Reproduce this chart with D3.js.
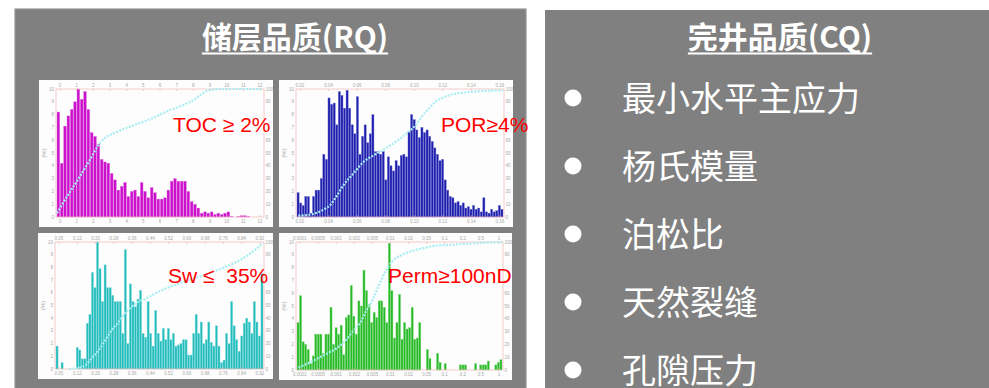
<!DOCTYPE html>
<html><head><meta charset="utf-8">
<script src="https://cdnjs.cloudflare.com/ajax/libs/d3/7.8.5/d3.min.js"></script>
<style>html,body{margin:0;padding:0;background:#fff;overflow:hidden}</style>
</head><body>
<script>
// ---------------- DATA ----------------
const leftTitle = "储层品质(RQ)";
const rightTitle = "完井品质(CQ)";
const cqItems = ["最小水平主应力", "杨氏模量", "泊松比", "天然裂缝", "孔隙压力"];
const chartLabels = ["TOC ≥ 2%", "POR≥4%", "Sw ≤  35%", "Perm≥100nD"];

// histogram bar heights (relative frequency, 10 = full plot height)
const tocBars = [8.2,4.2,7.1,7.9,8.4,9.0,10.0,9.2,9.8,8.4,
  6.6,6.3,5.7,4.5,4.3,4.2,3.4,2.9,2.1,2.4,
  2.7,1.6,2.0,2.1,1.6,2.7,2.0,1.5,2.3,1.9,
  1.4,1.4,1.5,2.1,2.8,3.0,2.8,2.8,2.8,2.0,
  1.2,1.0,0.7,0.3,0.4,0.3,0.4,0.2,0.3,0.2,
  0.3,0.4,0.05,0,0.05,0.1,0.1,0.05,0,0,0,0];
const porBars = [1.9,1.1,0.9,1.6,1.6,0.3,1.6,2.1,2.1,3.0,
  4.9,4.5,9.3,8.8,8.9,7.2,9.8,9.5,8.5,9.9,
  8.5,7.2,6.5,9.4,4.9,6.3,7.2,5.8,6.5,8.0,
  5.1,5.1,4.9,5.1,2.9,4.7,4.0,3.6,4.4,4.0,
  4.8,4.9,4.7,6.7,8.0,7.6,6.8,6.2,7.0,6.6,
  6.8,6.3,5.9,5.4,4.9,4.4,4.5,2.9,2.1,1.6,
  1.5,1.1,1.2,0.9,1.1,0.7,0.8,0.6,0.9,0.6,
  0.7,0.4,1.5,0.4,0.3,0.6,0.4,0.5,0.9,0.6];
const swBars = [1.8,0,0.5,0,0,0,0,0,1.7,1.5,
  0.8,0.8,3.6,4.3,7.6,6.4,10.0,7.9,5.3,8.2,
  6.4,6.4,5.8,5.3,5.3,5.3,2.8,9.4,2.0,6.7,
  5.3,4.9,5.5,6.2,2.8,2.5,5.3,2.8,1.8,4.6,
  2.8,2.2,3.2,2.3,3.2,2.3,2.8,1.8,1.9,2.0,
  2.3,2.3,1.1,1.1,2.8,4.3,2.8,3.7,2.0,2.3,
  3.7,2.1,1.8,3.4,1.8,0.5,0.7,2.8,2.0,5.3,
  3.4,2.3,1.4,2.6,3.6,4.0,3.7,2.8,5.3,3.7,
  2.6,7.5];
const permBars = [3.7,5.8,2.2,2.0,1.6,0.5,1.1,2.8,2.8,2.8,
  1.3,2.8,2.8,4.9,2.0,3.3,2.8,3.5,1.2,4.1,
  4.3,6.6,4.2,2.8,5.4,5.0,7.8,6.2,5.1,3.7,
  4.5,4.1,5.4,5.4,4.9,3.7,9.9,6.2,2.5,3.7,
  5.9,2.4,3.7,3.2,3.3,4.9,2.4,2.5,3.7,0,
  0,1.6,0.9,0,0,1.3,0.6,0,0.5,0,
  0,0,0,0,0.4,0.4,0.4,0,0,0,
  0.5,0,0.4,0.4,0.4,0.7,0,0,0.4,0.6,
  0.8];

// cumulative curves (x in bin units, y in %)
const tocCumX = [0,3.5,6.5,10,13,18.5,23.5,28.5,33.5,38.5,41.5,43.5,45.5,49.5,62];
const tocCumY = [3,18,30,45,58,67,72,77,83,88,92,96,99,100,100];
const porCumX = [0.5,5.4,10.5,13,15.6,18.1,21.9,25.8,29.6,32.1,34.7,38.5,43.6,46.2,48.7,51.3,53.8,56.4,58.9,64,69,80];
const porCumY = [1,2,6,9.5,17,25,34,43,48,51,54,59,67,72,79,85,90,93,95,97,98,99];
const swCumX = [5.2,9.1,11.7,14.4,17,19.6,22.2,24.8,27.4,30,32.6,35.2,37.9,41.8,47,52.2,57.4,62.7,67.9,73.1,77,79.6,82];
const swCumY = [0,1,3,9,15,23,31,37,44,49,53,55,58,62,66,70,73,77,81,86,91,95,99];
const permCumX = [0.6,5.2,9.1,13,15.6,18.2,22,24.7,27.3,29.9,32.5,35,37.7,41.6,45.5,49.4,54.5,62.3,70.1,81];
const permCumY = [2,6,10,14,17,21,30,36,46,55,67,77,85,90,93,95,97,98,99,100];

// tiny axis tick labels (illegible in source, approximated)
const tocTicks = ["0","1","2","3","4","5","6","7","8","9","10","11","12"];
const porTicks = ["0.02","0.04","0.06","0.08","0.10","0.12","0.14","0.16"];
const swTicks = ["0.05","0.12","0.20","0.28","0.36","0.44","0.52","0.60","0.68","0.76","0.84","0.92"];
const permTicks = ["0.0001","0.0005","0.001","0.002","0.005","0.01","0.02","0.05","0.1","0.2","0.5","1"];
const freqTicks = ["0","1","2","3","4","5","6","7","8","9","10"];
const cumTicks = ["0","10","20","30","40","50","60","70","80","90","100"];

// ---------------- DRAW ----------------
const svg = d3.select("body").append("svg").attr("width", 989).attr("height", 388);

svg.append("rect").attr("x", 15).attr("y", 9).attr("width", 511).attr("height", 400)
  .attr("fill", "#808080").attr("stroke", "#959595").attr("stroke-width", 1.2);
svg.append("rect").attr("x", 545).attr("y", 10).attr("width", 460).attr("height", 400)
  .attr("fill", "#808080");

function title(text, cx) {
  const t = svg.append("text").attr("x", cx).attr("y", 48).attr("text-anchor", "middle")
    .attr("font-family", "'Noto Sans CJK SC', sans-serif").attr("font-weight", 700)
    .attr("font-size", 30).attr("fill", "#fff").text(text);
  const w = t.node().getComputedTextLength();
  svg.append("line").attr("x1", cx - w / 2).attr("x2", cx + w / 2)
    .attr("y1", 53.5).attr("y2", 53.5).attr("stroke", "#fff").attr("stroke-width", 1.8);
}
title(leftTitle, 295);
title(rightTitle, 780);

// right panel bullets
const rowY = d3.scaleLinear().domain([0, cqItems.length - 1]).range([98, 370]);
cqItems.forEach((s, i) => {
  svg.append("circle").attr("cx", 573).attr("cy", rowY(i)).attr("r", 8.5).attr("fill", "#fff");
  svg.append("text").attr("x", 622).attr("y", rowY(i) + 13)
    .attr("font-family", "'Noto Sans CJK SC', sans-serif").attr("font-size", 34)
    .attr("fill", "#fff").text(s);
});

const charts = [
  {box: [39, 80, 234, 147], bars: tocBars, cx: tocCumX, cy: tocCumY, color: "#cc11cc", edge: "#e27ee2", ticks: tocTicks, label: chartLabels[0], lx: 173, ly: 132},
  {box: [279, 80, 234, 147], bars: porBars, cx: porCumX, cy: porCumY, color: "#1f1fae", edge: "#6f6fd0", ticks: porTicks, label: chartLabels[1], lx: 441, ly: 132},
  {box: [38, 233, 235, 146], bars: swBars, cx: swCumX, cy: swCumY, color: "#22bcbc", edge: "#80dada", ticks: swTicks, label: chartLabels[2], lx: 168, ly: 283},
  {box: [279, 233, 233, 147], bars: permBars, cx: permCumX, cy: permCumY, color: "#26bb26", edge: "#80d880", ticks: permTicks, label: chartLabels[3], lx: 388, ly: 283}
];

const tiny = {"font-family": "'Liberation Sans', Arial, sans-serif", "font-size": 4.5, "fill": "#a8a8a8"};
function applyAttrs(sel, o) { Object.entries(o).forEach(([k, v]) => sel.attr(k, v)); return sel; }

charts.forEach(c => {
  const [bx, by, bw, bh] = c.box;
  const g = svg.append("g");
  g.append("rect").attr("x", bx).attr("y", by).attr("width", bw).attr("height", bh).attr("fill", "#fdfdfd");
  const L = bx + 17, R = bx + bw - 9, T = by + 9, B = by + bh - 10;
  const n = c.bars.length;
  const x = d3.scaleBand().domain(d3.range(n)).range([L + 1, R - 1]).paddingInner(0.18);
  const xl = d3.scaleLinear().domain([0, n]).range([L + 1, R - 1]);
  const y = d3.scaleLinear().domain([0, 10]).range([B, T]);
  const yc = d3.scaleLinear().domain([0, 100]).range([B, T]);

  // bars
  g.selectAll(".bar").data(c.bars).join("rect")
    .attr("x", (d, i) => x(i)).attr("width", x.bandwidth())
    .attr("y", d => y(d)).attr("height", d => B - y(d))
    .attr("fill", c.color).attr("stroke", c.edge).attr("stroke-width", 0.4);

  // frame
  g.append("rect").attr("x", L).attr("y", T).attr("width", R - L).attr("height", B - T)
    .attr("fill", "none").attr("stroke", "#f0b4b4").attr("stroke-width", 0.7);

  // tick labels
  const tx = d3.scalePoint().domain(c.ticks).range([L + 4, R - 4]);
  c.ticks.forEach(t => {
    applyAttrs(g.append("text"), tiny).attr("x", tx(t)).attr("y", T - 2.5).attr("text-anchor", "middle").text(t);
    applyAttrs(g.append("text"), tiny).attr("x", tx(t)).attr("y", B + 6).attr("text-anchor", "middle").text(t);
    g.append("line").attr("x1", tx(t)).attr("x2", tx(t)).attr("y1", T).attr("y2", T + 2).attr("stroke", "#e8a0a0").attr("stroke-width", 0.5);
    g.append("line").attr("x1", tx(t)).attr("x2", tx(t)).attr("y1", B).attr("y2", B - 2).attr("stroke", "#e8a0a0").attr("stroke-width", 0.5);
  });
  const ty = d3.scalePoint().domain(freqTicks).range([B, T]);
  freqTicks.forEach(t => {
    applyAttrs(g.append("text"), tiny).attr("x", L - 2).attr("y", ty(t) + 1.5).attr("text-anchor", "end").text(t);
  });
  const tyc = d3.scalePoint().domain(cumTicks).range([B, T]);
  cumTicks.forEach(t => {
    const yy = tyc(t) + 1.5;
    if (yy > c.ly - 19 && yy < c.ly + 7) return; // hidden behind the big red label
    applyAttrs(g.append("text"), tiny).attr("x", R + 1.5).attr("y", yy).attr("text-anchor", "start").text(t);
  });
  applyAttrs(g.append("text"), tiny).attr("font-size", 6)
    .attr("transform", `translate(${bx + 7},${(T + B) / 2}) rotate(-90)`).attr("text-anchor", "middle").text("(%)");

  // cumulative curve
  const pts = c.cx.map((v, i) => [xl(v), yc(c.cy[i])]);
  g.append("path").attr("d", d3.line().curve(d3.curveMonotoneX)(pts))
    .attr("fill", "none").attr("stroke", "#a6eef2").attr("stroke-width", 2.2)
    .attr("stroke-dasharray", "2,1.4");

  // label
  svg.append("text").attr("x", c.lx).attr("y", c.ly)
    .attr("font-family", "'Liberation Sans', Arial, sans-serif").attr("font-size", 21)
    .style("white-space", "pre").attr("xml:space", "preserve")
    .attr("fill", "#ff0000").text(c.label);
});
</script>
</body></html>
